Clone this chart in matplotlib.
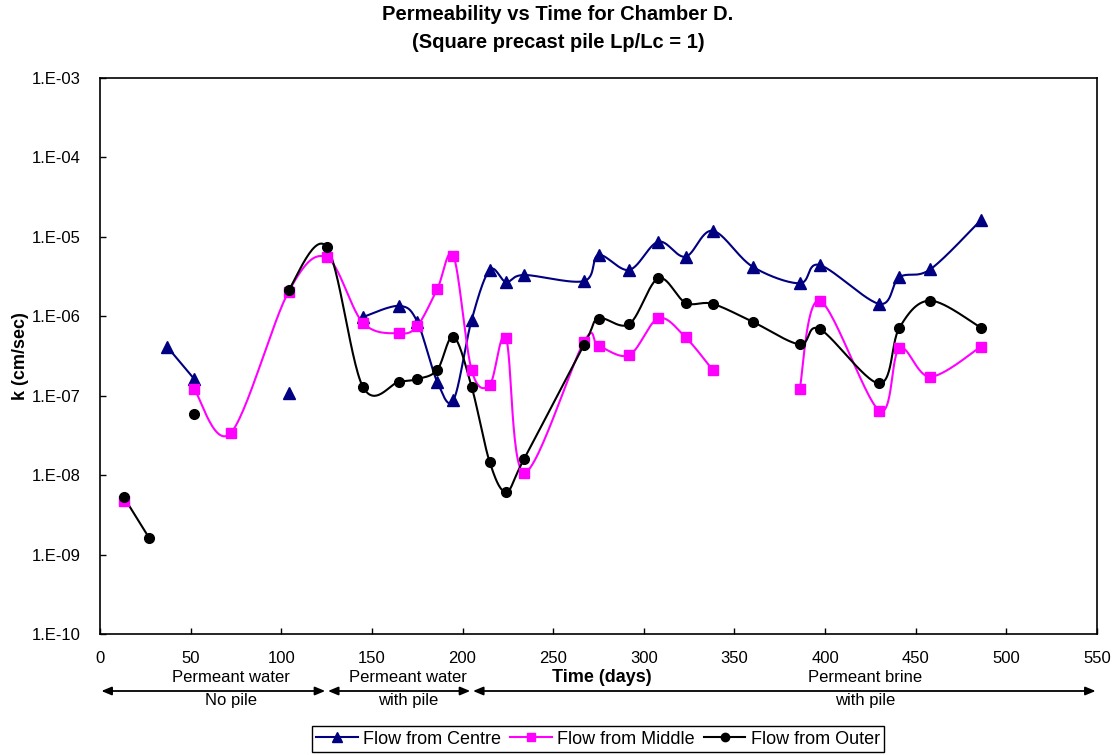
import numpy as np
import matplotlib
matplotlib.use("Agg")
import matplotlib.pyplot as plt
from matplotlib.lines import Line2D

plt.rcParams['font.family'] = ['Liberation Sans', 'DejaVu Sans']

# --- data: time (days) and permeability k (cm/sec), nan = no reading ---
nan = np.nan
days = [13, 27, 37, 52, 72, 104, 125, 145, 165, 175, 186, 195, 205, 215, 224,
        234, 267, 275, 292, 308, 323, 338, 360, 386, 397, 430, 441, 458, 486]

k_centre = [nan, nan, 4.11e-7, 1.61e-7, nan, 1.07e-7, nan, 9.7e-7, 1.34e-6, 8.5e-7,
            1.49e-7, 8.8e-8, 8.9e-7, 3.8e-6, 2.68e-6, 3.28e-6, 2.75e-6, 5.85e-6,
            3.8e-6, 8.6e-6, 5.57e-6, 1.18e-5, 4.17e-6, 2.58e-6, 4.38e-6, 1.42e-6,
            3.07e-6, 3.86e-6, 1.61e-5]

k_middle = [4.71e-9, nan, nan, 1.2e-7, 3.35e-8, 2.02e-6, 5.47e-6, 8.24e-7, 6.05e-7,
            7.48e-7, 2.17e-6, 5.69e-6, 2.09e-7, 1.36e-7, 5.24e-7, 1.07e-8, 4.75e-7,
            4.2e-7, 3.23e-7, 9.35e-7, 5.4e-7, 2.09e-7, nan, 1.21e-7, 1.56e-6,
            6.44e-8, 3.93e-7, 1.72e-7, 4.11e-7]

k_outer = [5.33e-9, 1.63e-9, nan, 5.8e-8, nan, 2.12e-6, 7.45e-6, 1.29e-7, 1.49e-7,
           1.61e-7, 2.09e-7, 5.5e-7, 1.29e-7, 1.45e-8, 6.17e-9, 1.6e-8, 4.32e-7,
           9.25e-7, 7.93e-7, 2.98e-6, 1.47e-6, 1.42e-6, 8.47e-7, 4.4e-7, 6.86e-7,
           1.42e-7, 7.13e-7, 1.56e-6, 7.13e-7]

# test phases: arrow span (days), label position (days), label lines
phase_spans = [(0, 125), (125, 205), (205, 550)]
phase_label_x = [72, 170, 422]
phase_top = ["Permeant water", "Permeant water", "Permeant brine"]
phase_bottom = ["No pile", "with pile", "with pile"]

X_MIN, X_MAX = 0, 550
Y_MIN, Y_MAX = 1e-10, 1e-3

W, H = 1117, 755
fig = plt.figure(figsize=(W / 100, H / 100), dpi=100)
ax_l, ax_r, ax_t, ax_b = 100, 1097, 77.5, 634
ax = fig.add_axes([ax_l / W, 1 - ax_b / H, (ax_r - ax_l) / W, (ax_b - ax_t) / H])
ax.set_xlim(X_MIN, X_MAX)
ax.set_yscale('log')
ax.set_ylim(Y_MIN, Y_MAX)

# pixel scale, so the smoothing is done in screen proportions
sx = (ax_r - ax_l) / (X_MAX - X_MIN)
sy = (ax_b - ax_t) / (np.log10(Y_MAX) - np.log10(Y_MIN))


def smooth(xs, ys, n=30):
    """Excel-like smoothed line: Catmull-Rom bezier in screen space."""
    px = np.asarray(xs, float) * sx
    py = np.log10(np.asarray(ys, float)) * sy
    pts = np.column_stack([px, py])
    if len(pts) < 2:
        return np.array(xs), np.array(ys)
    out = [pts[0]]
    t = np.linspace(0, 1, n)[1:, None]
    for i in range(len(pts) - 1):
        p0 = pts[max(i - 1, 0)]
        p1 = pts[i]
        p2 = pts[i + 1]
        p3 = pts[min(i + 2, len(pts) - 1)]
        c1 = p1 + (p2 - p0) / 6
        c2 = p2 - (p3 - p1) / 6
        seg = ((1 - t) ** 3 * p1 + 3 * (1 - t) ** 2 * t * c1
               + 3 * (1 - t) * t ** 2 * c2 + t ** 3 * p2)
        out.extend(seg)
    out = np.array(out)
    return out[:, 0] / sx, 10 ** (out[:, 1] / sy)


def plot_series(x, y, color, marker, ms, label):
    x = np.asarray(x, float)
    y = np.asarray(y, float)
    good = ~np.isnan(y)
    # split into runs of consecutive readings
    runs, cur = [], []
    for xi, yi, g in zip(x, y, good):
        if g:
            cur.append((xi, yi))
        elif cur:
            runs.append(cur)
            cur = []
    if cur:
        runs.append(cur)
    for run in runs:
        rx, ry = zip(*run)
        cx, cy = smooth(rx, ry)
        ax.plot(cx, cy, color=color, lw=1.5, zorder=3)
    ax.plot(x[good], y[good], ls='none', marker=marker, ms=ms, color=color,
            markeredgecolor=color, zorder=4, clip_on=False)
    return Line2D([], [], color=color, lw=1.5, marker=marker, ms=ms - 1, label=label)


h1 = plot_series(days, k_centre, '#000080', '^', 8, 'Flow from Centre')
h2 = plot_series(days, k_middle, '#FF00FF', 's', 6.5, 'Flow from Middle')
h3 = plot_series(days, k_outer, 'black', 'o', 7, 'Flow from Outer')

# axes styling
for sp in ax.spines.values():
    sp.set_linewidth(1.2)
    sp.set_color('black')
ax.set_xticks(np.arange(0, 551, 50))
ax.set_yticks([10.0 ** e for e in range(-10, -2)])
ax.set_yticklabels(['1.E-%02d' % -e for e in range(-10, -2)])
ax.minorticks_off()
ax.tick_params(axis='both', direction='in', length=4, width=1, labelsize=12)
ax.tick_params(axis='x', pad=12)
ax.tick_params(axis='y', pad=14)

ax.set_ylabel('k (cm/sec)', fontsize=13, fontweight='bold', labelpad=1.5)

fig.text(558, H - 15, 'Permeability vs Time for Chamber D.', transform=None,
         ha='center', va='center', fontsize=14.5, fontweight='bold')
fig.text(558, H - 42, '(Square precast pile Lp/Lc = 1)', transform=None,
         ha='center', va='center', fontsize=14.5, fontweight='bold')

# phase arrows and labels under the time axis
trans = ax.get_xaxis_transform()


def below(py):
    # axes-fraction y for a pixel row under the plot
    return -(py - ax_b) / (ax_b - ax_t)


for (x0, x1), lx, top, bot in zip(phase_spans, phase_label_x, phase_top, phase_bottom):
    ax.annotate('', xy=(x1, below(691)), xytext=(x0, below(691)), xycoords=trans,
                textcoords=trans,
                arrowprops=dict(arrowstyle='<|-|>,head_length=0.6,head_width=0.25',
                                color='black', lw=1.3, shrinkA=1, shrinkB=1),
                annotation_clip=False)
    ax.text(lx, below(677), top, transform=trans, ha='center', va='center',
            fontsize=12, clip_on=False)
    ax.text(lx, below(701), bot, transform=trans, ha='center', va='center',
            fontsize=12, clip_on=False)
ax.text(277, below(677), 'Time (days)', transform=trans,
        ha='center', va='center', fontsize=13, fontweight='bold')

leg = fig.legend(handles=[h1, h2, h3], loc='center', ncol=3,
                 bbox_to_anchor=(598 / W, 1 - 739 / H), fontsize=13,
                 frameon=True, fancybox=False, edgecolor='black', framealpha=1,
                 handlelength=2.3, handletextpad=0.3, columnspacing=0.5,
                 borderpad=0.25)
leg.get_frame().set_linewidth(1.0)

fig.savefig('out.png', dpi=100)
